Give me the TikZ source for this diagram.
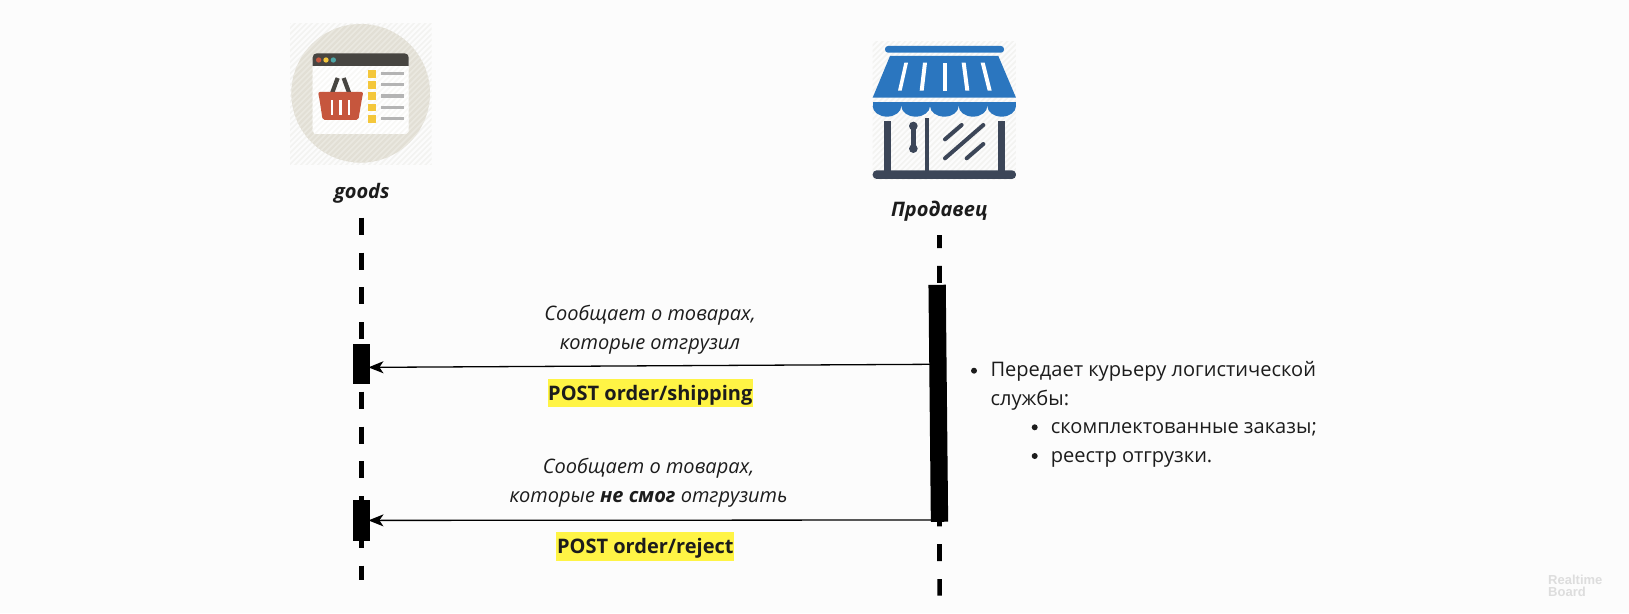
\documentclass[tikz,border=0pt]{standalone}
\usepackage{fontspec}
\setmainfont{Open Sans}
\newfontfamily\boardfont{Liberation Sans}
\usetikzlibrary{arrows.meta}
\definecolor{pageBg}{HTML}{FCFCFC}
\definecolor{hatchBg}{HTML}{F3F3F1}
\definecolor{discBg}{HTML}{E2DFD5}
\definecolor{discHatch}{HTML}{EAE8E0}
\definecolor{winHatch}{HTML}{F8F8F6}
\definecolor{winBar}{HTML}{474541}
\definecolor{basketRed}{HTML}{C6563D}
\definecolor{markYellow}{HTML}{F4C73B}
\definecolor{rowGray}{HTML}{B4B4B4}
\definecolor{awningBlue}{HTML}{2B76BF}
\definecolor{shopDark}{HTML}{3C4658}
\definecolor{keyYellow}{HTML}{FFF445}
\definecolor{inkText}{HTML}{1C1C1C}
\definecolor{boardGray}{HTML}{DDDDDD}
\tikzset{
actorstyle/.style={anchor=base, inner sep=0pt, text=inkText, font=\fontsize{20}{24}\selectfont\bfseries\itshape},
notestyle/.style={anchor=base, inner sep=0pt, text=inkText, font=\fontsize{20}{24}\selectfont\itshape},
keystyle/.style={fill=keyYellow, inner sep=0pt, text height=21pt, text depth=7.3pt, text=inkText, font=\fontsize{20}{24}\selectfont\bfseries},
liststyle/.style={anchor=base west, inner sep=0pt, text=inkText, font=\fontsize{20.05}{24}\selectfont},
boardstyle/.style={anchor=base west, inner sep=0pt, text=boardGray, font=\boardfont\fontsize{13}{13}\selectfont\bfseries},
dotstyle/.style={circle, fill=inkText, minimum size=6pt, inner sep=0pt},
boxstyle/.style={rectangle, fill=black, minimum width=17.3pt, inner sep=0pt, outer sep=0pt},
lifestyle/.style={line width=4.7pt, dash pattern=on 17pt off 17.8pt},
msgstyle/.style={line width=1.3pt, shorten >=-1.5pt, -{Stealth[length=15pt, width=12pt, inset=4pt]}}
}
\newcommand{\hatchlines}[1]{
  \foreach \i in {0,...,60} {
    \draw[#1, line width=1.6pt] (\i*17,30) -- ++(-440,440);
  }
}
\begin{document}
\begin{tikzpicture}[x=1pt,y=-1pt]
\fill[pageBg] (0,0) rectangle (1629,613);

% basket icon
\begin{scope}[shift={(270,10)},x=0.3333pt,y=-0.3333pt]
  \begin{scope}
    \clip (60,40) rectangle (485,465);
    \hatchlines{hatchBg}
  \end{scope}
  \fill[discBg] (272,250) circle (208);
  \begin{scope}
    \clip (272,250) circle (208);
    \hatchlines{discHatch}
  \end{scope}
  \fill[white, rounded corners=4pt] (128,140) rectangle (416,372);
  \begin{scope}
    \clip (128,168) rectangle (416,372);
    \hatchlines{winHatch}
  \end{scope}
  \fill[winBar] (128,168) -- (128,150) [rounded corners=4pt] -- (128,130) -- (416,130) [sharp corners] -- (416,168) -- cycle;
  \fill[basketRed] (146,150) circle (8);
  \fill[markYellow] (168,150) circle (8);
  \fill[teal!70!white] (190,150) circle (8);
  \draw[winBar, line width=4.2pt] (186,250) -- (203,204);
  \draw[winBar, line width=4.2pt] (238,250) -- (221,204);
  \fill[basketRed, rounded corners=2pt] (144,246) -- (280,246) -- (276,265) -- (265,330) -- (158,330) -- (148,265) -- cycle;
  \foreach \x in {183,208,233} {
    \fill[white] (\x,270) rectangle (\x+7,316);
  }
  \foreach \y in {180,213,247,281,315} {
    \fill[markYellow] (295,\y) rectangle (318,\y+23);
    \fill[rowGray] (333,\y+6) rectangle (402,\y+16);
  }
\end{scope}

% shop icon
\begin{scope}[shift={(850,30)},x=0.3333pt,y=-0.3333pt]
  \begin{scope}
    \clip (68,35) rectangle (498,450);
    \hatchlines{hatchBg}
  \end{scope}
  \fill[awningBlue, rounded corners=3pt] (105,48) rectangle (462,68);
  \fill[awningBlue] (120,78) -- (445,78) -- (498,203) -- (68,203) -- cycle;
  \fill[white] (163,98) -- (174,98) -- (155,182) -- (144,182) -- cycle;
  \fill[white] (219,98) -- (231,98) -- (221,182) -- (209,182) -- cycle;
  \fill[white] (278,98) -- (290,98) -- (290,182) -- (278,182) -- cycle;
  \fill[white] (335,98) -- (347,98) -- (358,182) -- (346,182) -- cycle;
  \fill[white] (392,98) -- (404,98) -- (425,182) -- (413,182) -- cycle;
  \fill[awningBlue] (68,216) rectangle (498,228);
  \foreach \x in {111,197,283,369,455} {
    \fill[awningBlue] (\x-43,228) arc[start angle=180, end angle=360, x radius=43, y radius=-32] -- cycle;
  }
  \fill[shopDark] (103,272) rectangle (123,425);
  \fill[shopDark] (224,265) rectangle (236,425);
  \fill[shopDark] (445,272) rectangle (465,425);
  \fill[shopDark, rounded corners=4pt] (68,421) rectangle (498,447);
  \draw[shopDark, line width=5pt] (190,288) -- (190,356);
  \fill[shopDark] (190,288) circle (13);
  \fill[shopDark] (190,356) circle (13);
  \draw[shopDark, line width=4pt, line cap=round] (285,328) -- (335,285);
  \draw[shopDark, line width=4pt, line cap=round] (285,385) -- (400,285);
  \draw[shopDark, line width=4pt, line cap=round] (350,385) -- (400,342);
\end{scope}

\node[actorstyle] (goodsLabel) at (361.8,198.5) {goods};
\node[actorstyle] (sellerLabel) at (939.2,216.7) {Продавец};

\coordinate (goodsTop) at (361.3,217.7);
\coordinate (goodsEnd) at (361.3,579.5);
\coordinate (sellerTop) at (939.4,235);
\coordinate (sellerEnd) at (939.6,595.5);
\draw[lifestyle] (goodsTop) -- (goodsEnd);
\draw[lifestyle, dash phase=4pt] (sellerTop) -- (sellerEnd);

\node[boxstyle, minimum height=40.3pt] (shipBox) at (361.3,364.2) {};
\node[boxstyle, minimum height=40.7pt] (rejectBox) at (361.3,520.4) {};
\node[boxstyle, minimum height=237pt, rotate=0.58] (sellerBox) at (938.3,403.3) {};

\coordinate (sellerShip) at (930,364.3);
\coordinate (sellerReject) at (931,520);
\draw[msgstyle] (sellerShip) -- (shipBox.-20);
\draw[msgstyle] (sellerReject) -- (rejectBox.east);

\node[notestyle] (shipNoteA) at (650,320) {Сообщает о товарах,};
\node[notestyle] (shipNoteB) at (650,349) {которые отгрузил};
\node[keystyle, minimum width=204.7pt] (shipKey) at (650.3,393.2) {POST order/shipping};
\node[notestyle] (rejectNoteA) at (648.5,473) {Сообщает о товарах,};
\node[notestyle] (rejectNoteB) at (648.5,502) {которые \textbf{не смог} отгрузить};
\node[keystyle, minimum width=178pt] (rejectKey) at (645.3,546.5) {POST order/reject};

\node[dotstyle] (listDotA) at (974,370.7) {};
\node[liststyle] (listA) at (990.3,376) {Передает курьеру логистической};
\node[liststyle] (listB) at (990.3,405) {службы:};
\node[dotstyle] (listDotC) at (1034.7,427.3) {};
\node[liststyle] (listC) at (1050.7,433) {скомплектованные заказы;};
\node[dotstyle] (listDotD) at (1034.7,456) {};
\node[liststyle] (listD) at (1050.7,462) {реестр отгрузки.};

\node[boardstyle] (boardA) at (1548,584) {Realtime};
\node[boardstyle] (boardB) at (1548,596.7) {Board};
\end{tikzpicture}
\end{document}
